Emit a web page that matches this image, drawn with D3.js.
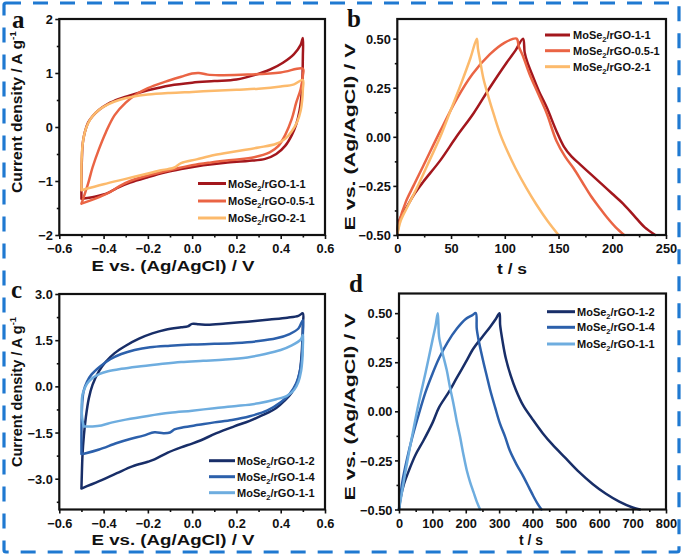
<!DOCTYPE html>
<html><head><meta charset="utf-8">
<script src="https://cdn.jsdelivr.net/npm/d3@7"></script>
<style>body{margin:0;background:#fff}svg{display:block}</style>
</head><body><svg id="fig" width="685" height="557"></svg>
<script>
// ---------------- DATA ----------------
// Panel a: CV curves [E (V), current density (A/g)]
const aCV_1_1 = [[-0.5,-1.33],[-0.5,-1.0],[-0.498,-0.6],[-0.494,-0.3],[-0.485,-0.1],[-0.47,0.08],[-0.45,0.2],[-0.42,0.32],[-0.38,0.43],[-0.33,0.52],[-0.27,0.6],[-0.2,0.68],[-0.1,0.77],[0.0,0.82],[0.1,0.85],[0.2,0.88],[0.28,0.96],[0.35,1.06],[0.41,1.19],[0.46,1.35],[0.49,1.52],[0.5,1.65],[0.5,1.3],[0.498,0.9],[0.494,0.6],[0.485,0.3],[0.47,0.05],[0.45,-0.15],[0.42,-0.35],[0.38,-0.5],[0.33,-0.59],[0.25,-0.63],[0.15,-0.66],[0.05,-0.71],[-0.05,-0.78],[-0.12,-0.84],[-0.2,-0.93],[-0.28,-1.03],[-0.34,-1.13],[-0.38,-1.22],[-0.44,-1.29],[-0.5,-1.33]];
const aCV_05_1 = [[-0.5,-1.42],[-0.49,-1.3],[-0.47,-1.05],[-0.45,-0.75],[-0.42,-0.4],[-0.39,-0.1],[-0.35,0.22],[-0.3,0.45],[-0.25,0.61],[-0.2,0.72],[-0.12,0.84],[-0.05,0.93],[0.0,0.99],[0.03,1.0],[0.07,0.97],[0.12,0.96],[0.25,0.97],[0.4,1.01],[0.5,1.08],[0.5,0.95],[0.49,0.7],[0.47,0.45],[0.45,0.15],[0.42,-0.15],[0.39,-0.35],[0.35,-0.47],[0.28,-0.56],[0.18,-0.61],[0.08,-0.66],[0.0,-0.71],[-0.1,-0.8],[-0.2,-0.9],[-0.28,-1.0],[-0.33,-1.1],[-0.36,-1.18],[-0.42,-1.3],[-0.5,-1.42]];
const aCV_2_1 = [[-0.5,-1.17],[-0.5,-0.8],[-0.498,-0.5],[-0.494,-0.3],[-0.485,-0.1],[-0.47,0.07],[-0.45,0.2],[-0.42,0.32],[-0.38,0.42],[-0.33,0.5],[-0.27,0.56],[-0.2,0.6],[-0.1,0.63],[0.0,0.65],[0.1,0.67],[0.2,0.69],[0.3,0.71],[0.4,0.75],[0.46,0.79],[0.5,0.87],[0.5,0.7],[0.497,0.5],[0.49,0.3],[0.475,0.1],[0.45,-0.08],[0.42,-0.22],[0.38,-0.31],[0.3,-0.38],[0.2,-0.45],[0.1,-0.52],[0.02,-0.6],[-0.05,-0.67],[-0.08,-0.75],[-0.11,-0.78],[-0.14,-0.8],[-0.2,-0.86],[-0.3,-0.96],[-0.4,-1.06],[-0.5,-1.17]];
// Panel b: GCD curves [t (s), E (V)]
const bGCD_1_1 = [[0,-0.5],[1,-0.44],[5,-0.39],[9,-0.355],[16,-0.29],[24,-0.23],[40,-0.12],[55,0.0],[71,0.12],[86,0.25],[102,0.38],[110,0.44],[117,0.5],[118.5,0.43],[121,0.38],[126,0.31],[132,0.23],[139,0.15],[148,0.03],[155,-0.05],[162,-0.1],[170,-0.14],[180,-0.19],[190,-0.24],[200,-0.29],[210,-0.34],[220,-0.4],[230,-0.46],[240,-0.5]];
const bGCD_05_1 = [[0,-0.5],[2,-0.43],[8,-0.33],[15,-0.25],[24,-0.15],[40,0.03],[55,0.19],[70,0.32],[86,0.42],[100,0.48],[111,0.5],[113,0.46],[117,0.41],[123,0.32],[131,0.22],[139,0.12],[148,-0.02],[156,-0.1],[164,-0.16],[172,-0.23],[180,-0.3],[188,-0.36],[195,-0.41],[203,-0.46],[211,-0.5]];
const bGCD_2_1 = [[0,-0.5],[3,-0.43],[10,-0.35],[20,-0.24],[30,-0.12],[40,0.0],[50,0.14],[60,0.28],[68,0.4],[74,0.5],[75,0.45],[77,0.39],[80,0.3],[85,0.2],[90,0.11],[96,0.01],[103,-0.08],[110,-0.16],[120,-0.26],[130,-0.35],[140,-0.43],[150,-0.5]];
// Panel c: CV curves
const cCV_1_2 = [[-0.5,-3.32],[-0.498,-2.8],[-0.495,-2.2],[-0.489,-1.6],[-0.48,-1.0],[-0.467,-0.4],[-0.45,0.05],[-0.42,0.5],[-0.39,0.8],[-0.35,1.08],[-0.3,1.32],[-0.24,1.55],[-0.18,1.72],[-0.12,1.84],[-0.05,1.92],[-0.02,1.95],[0.0,2.03],[0.03,2.02],[0.07,2.0],[0.15,2.04],[0.25,2.1],[0.35,2.17],[0.43,2.23],[0.48,2.29],[0.5,2.37],[0.5,2.0],[0.498,1.5],[0.494,1.0],[0.487,0.5],[0.475,0.15],[0.45,-0.2],[0.42,-0.45],[0.38,-0.7],[0.32,-0.93],[0.26,-1.12],[0.19,-1.3],[0.11,-1.52],[0.04,-1.75],[0.0,-1.86],[-0.05,-1.98],[-0.11,-2.15],[-0.17,-2.37],[-0.2,-2.45],[-0.27,-2.6],[-0.34,-2.82],[-0.42,-3.08],[-0.5,-3.32]];
const cCV_1_4 = [[-0.5,-2.2],[-0.5,-1.6],[-0.499,-1.0],[-0.496,-0.5],[-0.49,-0.15],[-0.475,0.15],[-0.455,0.38],[-0.42,0.62],[-0.37,0.88],[-0.32,1.05],[-0.26,1.18],[-0.19,1.27],[-0.1,1.32],[0.0,1.36],[0.1,1.38],[0.2,1.41],[0.3,1.47],[0.38,1.56],[0.44,1.7],[0.48,1.88],[0.5,2.15],[0.5,1.7],[0.498,1.2],[0.493,0.8],[0.485,0.45],[0.47,0.1],[0.44,-0.25],[0.4,-0.52],[0.34,-0.78],[0.26,-0.97],[0.18,-1.09],[0.1,-1.17],[0.03,-1.25],[-0.04,-1.33],[-0.08,-1.4],[-0.1,-1.5],[-0.13,-1.52],[-0.17,-1.49],[-0.22,-1.6],[-0.28,-1.71],[-0.34,-1.84],[-0.42,-2.05],[-0.48,-2.17],[-0.5,-2.2]];
const cCV_1_1 = [[-0.49,-1.3],[-0.497,-1.0],[-0.499,-0.6],[-0.496,-0.3],[-0.49,-0.15],[-0.475,0.08],[-0.45,0.27],[-0.42,0.4],[-0.38,0.49],[-0.32,0.57],[-0.25,0.64],[-0.15,0.72],[-0.05,0.79],[0.05,0.83],[0.15,0.87],[0.25,0.94],[0.33,1.05],[0.4,1.18],[0.45,1.33],[0.49,1.52],[0.5,1.67],[0.5,1.3],[0.498,0.9],[0.492,0.5],[0.48,0.15],[0.46,-0.12],[0.43,-0.3],[0.38,-0.42],[0.3,-0.55],[0.2,-0.64],[0.1,-0.71],[0.0,-0.79],[-0.1,-0.86],[-0.2,-0.96],[-0.3,-1.08],[-0.36,-1.17],[-0.41,-1.27],[-0.45,-1.3],[-0.49,-1.3]];
// Panel d: GCD curves
const dGCD_1_2 = [[0,-0.5],[5,-0.44],[15,-0.37],[30,-0.3],[50,-0.22],[73,-0.15],[100,-0.06],[120,0.02],[150,0.1],[173,0.17],[200,0.25],[223,0.32],[250,0.38],[273,0.43],[290,0.47],[301,0.5],[303,0.44],[310,0.36],[320,0.27],[335,0.18],[350,0.11],[372,0.03],[400,-0.04],[430,-0.11],[460,-0.17],[500,-0.24],[540,-0.31],[580,-0.37],[620,-0.42],[660,-0.46],[700,-0.49],[722,-0.5]];
const dGCD_1_4 = [[0,-0.5],[5,-0.42],[12,-0.34],[23,-0.25],[40,-0.13],[60,-0.01],[80,0.1],[100,0.19],[120,0.27],[145,0.35],[173,0.42],[200,0.47],[220,0.49],[230,0.5],[233,0.42],[240,0.35],[253,0.25],[263,0.18],[273,0.11],[288,0.02],[302,-0.06],[318,-0.13],[332,-0.2],[352,-0.27],[372,-0.33],[390,-0.39],[402,-0.43],[415,-0.47],[427,-0.5]];
const dGCD_1_1 = [[0,-0.5],[10,-0.4],[20,-0.3],[40,-0.12],[60,0.05],[80,0.2],[100,0.36],[110,0.44],[116,0.5],[118,0.45],[120,0.38],[130,0.3],[143,0.21],[153,0.12],[163,0.04],[173,-0.05],[183,-0.13],[193,-0.22],[203,-0.3],[213,-0.36],[223,-0.41],[233,-0.46],[243,-0.5]];

// Legend labels (MoSe + subscript 2 + suffix)
const aLabels = ["/rGO-1-1", "/rGO-0.5-1", "/rGO-2-1"];
const cLabels = ["/rGO-1-2", "/rGO-1-4", "/rGO-1-1"];
const warmColors = ["#a3171d", "#ea6444", "#fcba6c"];
const blueColors = ["#182e68", "#2c60ab", "#6eaddf"];

// Tick values
const cvXTicks = [-0.6, -0.4, -0.2, 0.0, 0.2, 0.4, 0.6];
const aYTicks = [-2, -1, 0, 1, 2];
const bXTicks = [0, 50, 100, 150, 200, 250];
const gcdYTicks = [-0.5, -0.25, 0, 0.25, 0.5];
const cYTicks = [-3, -1.5, 0, 1.5, 3];
const dXTicks = [0, 100, 200, 300, 400, 500, 600, 700, 800];

// ---------------- DRAW ----------------
const svg = d3.select("#fig");
const SANS = "'Liberation Sans', Arial, Helvetica, sans-serif";

svg.append("rect").attr("x", 4).attr("y", 3).attr("width", 675).attr("height", 549).attr("rx", 2)
  .attr("fill", "none").attr("stroke", "#1f79d1").attr("stroke-width", 3.2)
  .attr("stroke-dasharray", "15,12");

function minorTicks(ticks, domain) {
  const step = (ticks[1] - ticks[0]) / 2;
  const lo = Math.min(domain[0], domain[1]), hi = Math.max(domain[0], domain[1]);
  const out = [];
  for (let k = Math.ceil(lo / step - 1e-6); k * step <= hi + 1e-9; k++) {
    const v = k * step;
    if (!ticks.some(t => Math.abs(t - v) < 1e-9)) out.push(v);
  }
  return out;
}

function panel(cfg) {
  const x = d3.scaleLinear().domain(cfg.xDomain).range([cfg.left, cfg.right]);
  const y = d3.scaleLinear().domain(cfg.yDomain).range([cfg.bottom, cfg.top]);
  const g = svg.append("g");

  const line = d3.line().x(d => x(d[0])).y(d => y(d[1])).curve(d3.curveCatmullRom.alpha(0.5));
  cfg.series.forEach((s, i) => {
    g.append("path").attr("d", line(s)).attr("fill", "none")
      .attr("stroke", cfg.colors[i]).attr("stroke-width", 2.5)
      .attr("stroke-linejoin", "round").attr("stroke-linecap", "round");
  });

  // minor ticks
  const xm = g.append("g").attr("transform", `translate(0,${cfg.bottom})`)
    .call(d3.axisBottom(x).tickValues(minorTicks(cfg.xTicks, cfg.xDomain)).tickFormat("").tickSize(2.5).tickSizeOuter(0));
  const ym = g.append("g").attr("transform", `translate(${cfg.left},0)`)
    .call(d3.axisLeft(y).tickValues(minorTicks(cfg.yTicks, cfg.yDomain)).tickFormat("").tickSize(2.5).tickSizeOuter(0));
  // major ticks
  const xa = g.append("g").attr("transform", `translate(0,${cfg.bottom})`)
    .call(d3.axisBottom(x).tickValues(cfg.xTicks).tickFormat(d3.format(cfg.xFmt)).tickSize(4).tickSizeOuter(0).tickPadding(5));
  const ya = g.append("g").attr("transform", `translate(${cfg.left},0)`)
    .call(d3.axisLeft(y).tickValues(cfg.yTicks).tickFormat(d3.format(cfg.yFmt)).tickSize(4).tickSizeOuter(0).tickPadding(2.5));
  [xm, ym, xa, ya].forEach(a => {
    a.select(".domain").remove();
    a.selectAll(".tick line").attr("stroke", "#111").attr("stroke-width", 1.6);
    a.selectAll("text").attr("font-family", SANS).attr("font-weight", "bold")
      .attr("font-size", 12.8).attr("fill", "#111");
  });
  ya.selectAll("text").attr("dy", "0.36em");

  // frame
  g.append("rect").attr("x", cfg.left).attr("y", cfg.top)
    .attr("width", cfg.right - cfg.left).attr("height", cfg.bottom - cfg.top)
    .attr("fill", "none").attr("stroke", "#111").attr("stroke-width", 2.2);

  // x title
  g.append("text").attr("x", cfg.xTitle.x).attr("y", cfg.xTitle.y)
    .attr("text-anchor", "middle").attr("font-family", SANS).attr("font-weight", "bold")
    .attr("font-size", 14).attr("fill", "#111")
    .attr("textLength", cfg.xTitle.len).attr("lengthAdjust", "spacingAndGlyphs")
    .text(cfg.xTitle.text);
  // y title
  const yt = g.append("text")
    .attr("transform", `translate(${cfg.yTitle.x},${cfg.yTitle.y}) rotate(-90)`)
    .attr("text-anchor", "middle").attr("font-family", SANS).attr("font-weight", "bold")
    .attr("font-size", 14).attr("fill", "#111")
    .attr("textLength", cfg.yTitle.len).attr("lengthAdjust", "spacingAndGlyphs");
  yt.append("tspan").text(cfg.yTitle.text);
  if (cfg.yTitle.sup) {
    yt.append("tspan").attr("dy", -6).attr("font-size", 9).text(cfg.yTitle.sup);
  }

  // legend
  const L = cfg.legend;
  L.ys.forEach((yy, i) => {
    g.append("line").attr("x1", L.x0).attr("x2", L.x1).attr("y1", yy).attr("y2", yy)
      .attr("stroke", cfg.colors[i]).attr("stroke-width", 3);
    const t = g.append("text").attr("x", L.tx).attr("y", yy + 4)
      .attr("font-family", SANS).attr("font-weight", "bold").attr("font-size", 11).attr("fill", "#111");
    t.append("tspan").text("MoSe");
    t.append("tspan").attr("font-size", 7.5).attr("dy", 3).text("2");
    t.append("tspan").attr("dy", -3).text(cfg.labels[i]);
  });

  // panel letter
  svg.append("text").attr("x", cfg.letter.x).attr("y", cfg.letter.y)
    .attr("font-family", "'Liberation Serif', 'Times New Roman', serif").attr("font-weight", "bold")
    .attr("font-size", 25).attr("fill", "#111").text(cfg.letter.t);
}

panel({
  left: 59.3, right: 325, top: 19, bottom: 235,
  xDomain: [-0.6, 0.6], yDomain: [-2, 2],
  xTicks: cvXTicks, yTicks: aYTicks, xFmt: ".1f", yFmt: "d",
  series: [aCV_1_1, aCV_05_1, aCV_2_1], colors: warmColors, labels: aLabels,
  xTitle: {x: 173, y: 271, len: 163, text: "E vs. (Ag/AgCl) / V"},
  yTitle: {x: 22, y: 112, len: 162, text: "Current density / A g", sup: "-1"},
  legend: {x0: 198, x1: 226, tx: 228, ys: [183.5, 201, 218]},
  letter: {x: 12, y: 28, t: "a"}
});
panel({
  left: 397.3, right: 666, top: 19, bottom: 235,
  xDomain: [0, 250], yDomain: [-0.5, 0.6],
  xTicks: bXTicks, yTicks: gcdYTicks, xFmt: "d", yFmt: ".2f",
  series: [bGCD_1_1, bGCD_05_1, bGCD_2_1], colors: warmColors, labels: aLabels,
  xTitle: {x: 512, y: 274, len: 30, text: "t / s"},
  yTitle: {x: 355, y: 137, len: 187, text: "E vs. (Ag/AgCl) / V"},
  legend: {x0: 545, x1: 570, tx: 573, ys: [35, 50.7, 66.7]},
  letter: {x: 347, y: 27, t: "b"}
});
panel({
  left: 59.3, right: 325, top: 294, bottom: 509.5,
  xDomain: [-0.6, 0.6], yDomain: [-4, 3],
  xTicks: cvXTicks, yTicks: cYTicks, xFmt: ".1f", yFmt: ".1f",
  series: [cCV_1_2, cCV_1_4, cCV_1_1], colors: blueColors, labels: cLabels,
  xTitle: {x: 173, y: 545, len: 163, text: "E vs. (Ag/AgCl) / V"},
  yTitle: {x: 22, y: 392, len: 150, text: "Current density / A g", sup: "-1"},
  legend: {x0: 209, x1: 235, tx: 237, ys: [460.7, 476.7, 492.7]},
  letter: {x: 11, y: 298, t: "c"}
});
panel({
  left: 399, right: 666, top: 293.5, bottom: 509.5,
  xDomain: [0, 800], yDomain: [-0.5, 0.6],
  xTicks: dXTicks, yTicks: gcdYTicks, xFmt: "d", yFmt: ".2f",
  series: [dGCD_1_2, dGCD_1_4, dGCD_1_1], colors: blueColors, labels: cLabels,
  xTitle: {x: 531, y: 545, len: 24, text: "t / s"},
  yTitle: {x: 355, y: 407, len: 187, text: "E vs. (Ag/AgCl) / V"},
  legend: {x0: 547, x1: 575, tx: 577, ys: [311.7, 327.3, 344]},
  letter: {x: 349, y: 292, t: "d"}
});
</script>
</body></html>
